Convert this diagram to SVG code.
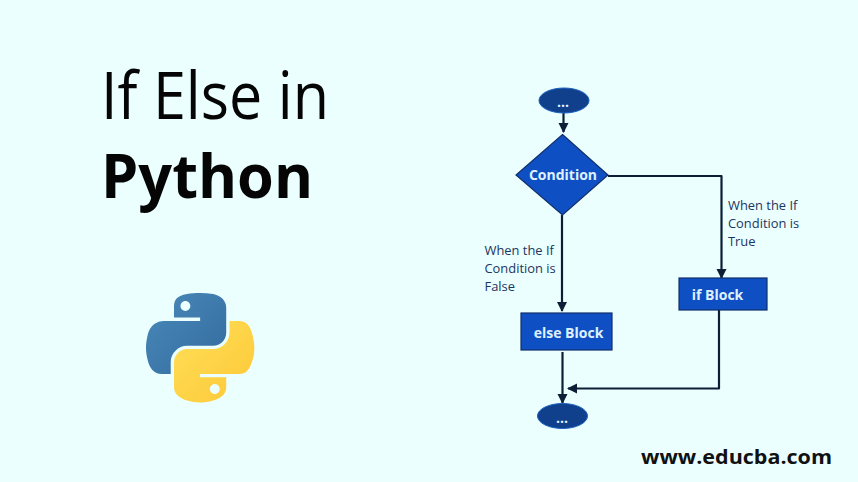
<svg xmlns="http://www.w3.org/2000/svg" width="858" height="482" viewBox="0 0 858 482">
<style>
text{font-family:"Open Sans","Noto Sans","Liberation Sans",sans-serif}
.lbl{font-size:12.9px;fill:#1b3560}
.nt{font-size:14px;font-weight:700;fill:#dff1ff;text-anchor:middle}
.box{fill:#0f4fc4;stroke:#12306a;stroke-width:1.2}
.term{fill:#103f8c;stroke:#1c5fc0;stroke-width:1}
.c{fill:none;stroke:#0d1f36;stroke-width:2.2;stroke-linejoin:round}
</style>
<defs>
<marker id="a" viewBox="0 0 10 10" refX="9" refY="5" markerWidth="4.6" markerHeight="4.6" orient="auto"><path d="M0 0L10 5L0 10z" fill="#0d1f36"/></marker>
<linearGradient id="pb" x1="0" y1="0" x2="1" y2="1"><stop offset="0" stop-color="#4a8abc"/><stop offset="1" stop-color="#336a9c"/></linearGradient>
<linearGradient id="py" x1="0" y1="0" x2="1" y2="1"><stop offset="0" stop-color="#ffe05a"/><stop offset="1" stop-color="#fdc735"/></linearGradient>
</defs>
<rect width="858" height="482" fill="#ebffff"/>
<g id="title">
<text x="101" y="119" font-size="66" fill="#050505" textLength="228" lengthAdjust="spacingAndGlyphs">If Else in</text>
<text x="101" y="198" font-size="60" font-weight="700" fill="#050505" textLength="212" lengthAdjust="spacingAndGlyphs">Python</text>
</g>
<g id="python-logo" transform="translate(146 293) scale(.975)">
<path fill="url(#pb)" fill-rule="evenodd" d="M54.92 0C50.34 .02 45.96 .41 42.11 1.09C30.76 3.1 28.7 7.29 28.7 15.03V25.25H55.51V28.66H18.64C10.85 28.66 4.02 33.34 1.89 42.25C-.57 52.46-.68 58.84 1.89 69.5C3.79 77.44 8.35 83.09 16.14 83.09H25.36V70.84C25.36 61.99 33.01 54.19 42.11 54.19H68.89C76.34 54.19 82.29 48.05 82.29 40.56V15.03C82.29 7.77 76.16 2.31 68.89 1.09C64.28 .33 59.5-.02 54.92 0ZM40.42 8.22C43.19 8.22 45.45 10.52 45.45 13.34C45.45 16.16 43.19 18.44 40.42 18.44C37.64 18.44 35.39 16.16 35.39 13.34C35.39 10.52 37.64 8.22 40.42 8.22Z"/>
<path fill="url(#py)" fill-rule="evenodd" d="M85.64 28.66V40.56C85.64 49.79 77.81 57.56 68.89 57.56H42.11C34.77 57.56 28.7 63.84 28.7 71.19V96.72C28.7 103.99 35.02 108.26 42.11 110.34C50.59 112.84 58.73 113.29 68.89 110.34C75.64 108.39 82.29 104.46 82.29 96.72V86.5H55.51V83.09H95.7C103.49 83.09 106.39 77.66 109.1 69.5C111.9 61.1 111.78 53.02 109.1 42.25C107.17 34.5 103.49 28.66 95.7 28.66ZM70.58 93.31C73.36 93.31 75.61 95.59 75.61 98.41C75.61 101.23 73.36 103.53 70.58 103.53C67.81 103.53 65.54 101.23 65.54 98.41C65.54 95.59 67.81 93.31 70.58 93.31Z"/>
</g>
<g id="connectors">
<path class="c" marker-end="url(#a)" d="M563.5 113V132"/>
<path class="c" marker-end="url(#a)" d="M608 176H721.500V278"/>
<path class="c" marker-end="url(#a)" d="M562 215V311"/>
<path class="c" marker-end="url(#a)" d="M562.5 352V403"/>
<path class="c" marker-end="url(#a)" d="M719 310V388.5H568"/>
</g>
<g id="start"><ellipse class="term" cx="564" cy="100.5" rx="25" ry="12.5"/><text class="nt" x="563" y="107">...</text></g>
<g id="condition"><path class="box" d="M562.5 134.5L608 175L562.5 215L516 175Z"/><text class="nt" x="563" y="180">Condition</text></g>
<g id="if-block"><rect class="box" x="679" y="278" width="88" height="32"/><text class="nt" x="717.5" y="300">if Block</text></g>
<g id="else-block"><rect class="box" x="521" y="313" width="91" height="37"/><text class="nt" x="568.5" y="338">else Block</text></g>
<g id="end"><ellipse class="term" cx="562.5" cy="416" rx="25" ry="12.5"/><text class="nt" x="562" y="423">...</text></g>
<g id="label-true"><text class="lbl" x="728" y="210">When the If</text><text class="lbl" x="728" y="228">Condition is</text><text class="lbl" x="728" y="246">True</text></g>
<g id="label-false"><text class="lbl" x="484.5" y="255">When the If</text><text class="lbl" x="484.5" y="273">Condition is</text><text class="lbl" x="484.5" y="291">False</text></g>
<text x="641" y="464" font-size="19" font-weight="700" fill="#111" textLength="191" lengthAdjust="spacingAndGlyphs">www.educba.com</text>
</svg>
